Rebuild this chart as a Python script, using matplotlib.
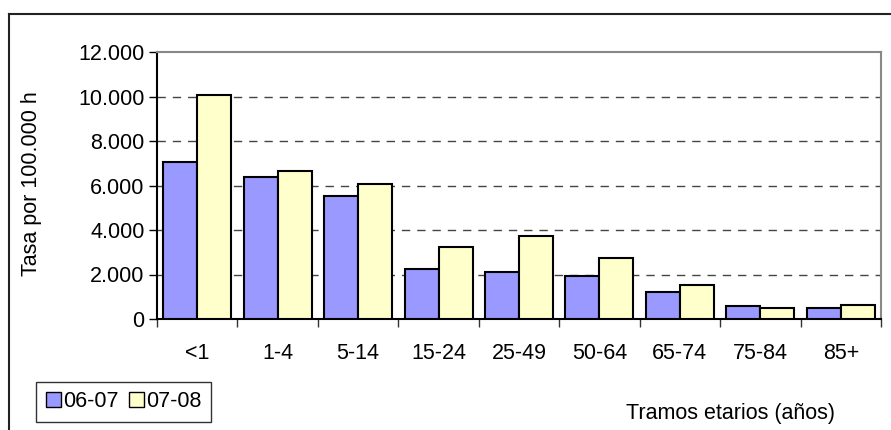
import matplotlib.pyplot as plt
import numpy as np
from matplotlib.patches import Patch
from matplotlib.lines import Line2D

plt.rcParams['font.family'] = ['Liberation Sans', 'DejaVu Sans']

# tasas por tramo de edad
tramos = ['<1', '1-4', '5-14', '15-24', '25-49', '50-64', '65-74', '75-84', '85+']
tasa_0607 = [7050, 6370, 5540, 2230, 2110, 1920, 1200, 600, 500]
tasa_0708 = [10070, 6640, 6050, 3220, 3720, 2730, 1530, 490, 610]
series = ['06-07', '07-08']
colores = ['#9999FF', '#FFFFCC']
fs = 15.5

fig = plt.figure(figsize=(8.91, 4.30), dpi=100)
ax = fig.add_axes([157/891, 111/430, 724/891, 267/430])

x = np.arange(len(tramos))
w = 0.423
ax.bar(x - w/2, tasa_0607, w, color=colores[0], edgecolor='black', linewidth=1.5, zorder=3)
ax.bar(x + w/2, tasa_0708, w, color=colores[1], edgecolor='black', linewidth=1.5, zorder=3)

ax.set_xlim(-0.5, len(tramos) - 0.5)
ax.set_ylim(0, 12000)
ax.set_yticks(np.arange(0, 12001, 2000))
ax.set_yticklabels(['0', '2.000', '4.000', '6.000', '8.000', '10.000', '12.000'])
ax.set_xticks(x)
ax.set_xticklabels(tramos)
ax.set_xticks(np.arange(-0.5, len(tramos)), minor=True)
ax.tick_params(axis='x', which='major', length=0, pad=17, labelsize=fs)
ax.tick_params(axis='x', which='minor', length=6, width=1, direction='out', color='#333333')
ax.tick_params(axis='y', length=6, width=1, direction='out', labelsize=fs, pad=3)

for v in range(2000, 12000, 2000):
    ax.axhline(v, color='#444444', linestyle=(0, (6, 5)), linewidth=1, zorder=1)

ax.spines['top'].set_color('#888888')
ax.spines['right'].set_color('#888888')
for s in ['top', 'right', 'left', 'bottom']:
    ax.spines[s].set_linewidth(1.5)

fig.text(32/891, 1 - 184/430, 'Tasa por 100.000 h', rotation=90, fontsize=fs,
         ha='center', va='center')
fig.text(730/891, 1 - 413/430, 'Tramos etarios (años)', fontsize=fs,
         ha='center', va='center')

# marco exterior
fig.add_artist(Line2D([9/891, 9/891], [0, 1 - 14/430], transform=fig.transFigure,
                      color='#222222', linewidth=1.5))
fig.add_artist(Line2D([9/891, 1], [1 - 14/430, 1 - 14/430], transform=fig.transFigure,
                      color='#222222', linewidth=1.5))

handles = [Patch(facecolor=c, edgecolor='black', linewidth=1) for c in colores]
leg = fig.legend(handles, series, loc='lower left', bbox_to_anchor=(36/891, 8/430),
                 ncol=2, fontsize=fs, frameon=True, fancybox=False,
                 handlelength=0.7, handleheight=0.7, handletextpad=0.1,
                 columnspacing=0.5, borderpad=0.45, borderaxespad=0)
leg.get_frame().set_edgecolor('black')
leg.get_frame().set_linewidth(1)

fig.savefig('out.png', dpi=100)
